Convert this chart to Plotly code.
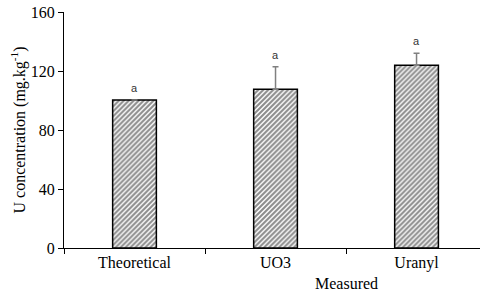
import plotly.graph_objects as go

categories = ["Theoretical", "UO3", "Uranyl"]
values = [100.3, 107.6, 123.9]
errors_up = [0, 15.3, 8.1]
letters = ["a", "a", "a"]

fig = go.Figure()
fig.add_trace(go.Bar(
    x=categories, y=values, width=0.31,
    marker=dict(color="white",
                line=dict(color="black", width=1.5),
                pattern=dict(shape="/", fgcolor="#1a1a1a", bgcolor="white", size=3.5, solidity=0.6)),
    error_y=dict(type="data", symmetric=False, array=errors_up, arrayminus=[0, 0, 0],
                 color="#808080", thickness=1.5, width=3),
    showlegend=False,
))

for c, v, e, l in zip(categories, values, errors_up, letters):
    fig.add_annotation(x=c, y=v + e, text=l, showarrow=False, yanchor="bottom", yshift=4,
                       font=dict(family="Liberation Sans", size=11, color="#333"))

fig.add_annotation(x=1.5, y=0, text="Measured", showarrow=False, yanchor="middle", yshift=-35,
                   font=dict(family="Liberation Serif", size=16, color="black"))

fig.update_layout(
    width=480, height=295,
    margin=dict(l=64, r=0, t=12, b=47, autoexpand=False),
    paper_bgcolor="white", plot_bgcolor="white",
    font=dict(family="Liberation Serif", size=16, color="black"),
)
fig.update_xaxes(type="category", range=[-0.5, 2.45], showline=True, linecolor="black", linewidth=1,
                 ticks="outside", tickson="boundaries", ticklen=5, tickcolor="black",
                 showgrid=False, zeroline=False, tickfont=dict(size=16), automargin=False)
fig.update_yaxes(range=[0, 160], tickvals=[0, 40, 80, 120, 160], showline=True, linecolor="black",
                 linewidth=1, ticks="outside", ticklen=5, tickcolor="black", showgrid=False,
                 zeroline=False, tickfont=dict(size=16), ticklabeloverflow="allow", automargin=False,
                 title=dict(text="U concentration (mg.kg<sup>-1</sup>)", standoff=1,
                            font=dict(family="Liberation Serif", size=16)))

fig.write_html("out.html", config={"displayModeBar": False},
               post_script="document.body.style.margin='0';document.body.style.overflow='hidden';")
